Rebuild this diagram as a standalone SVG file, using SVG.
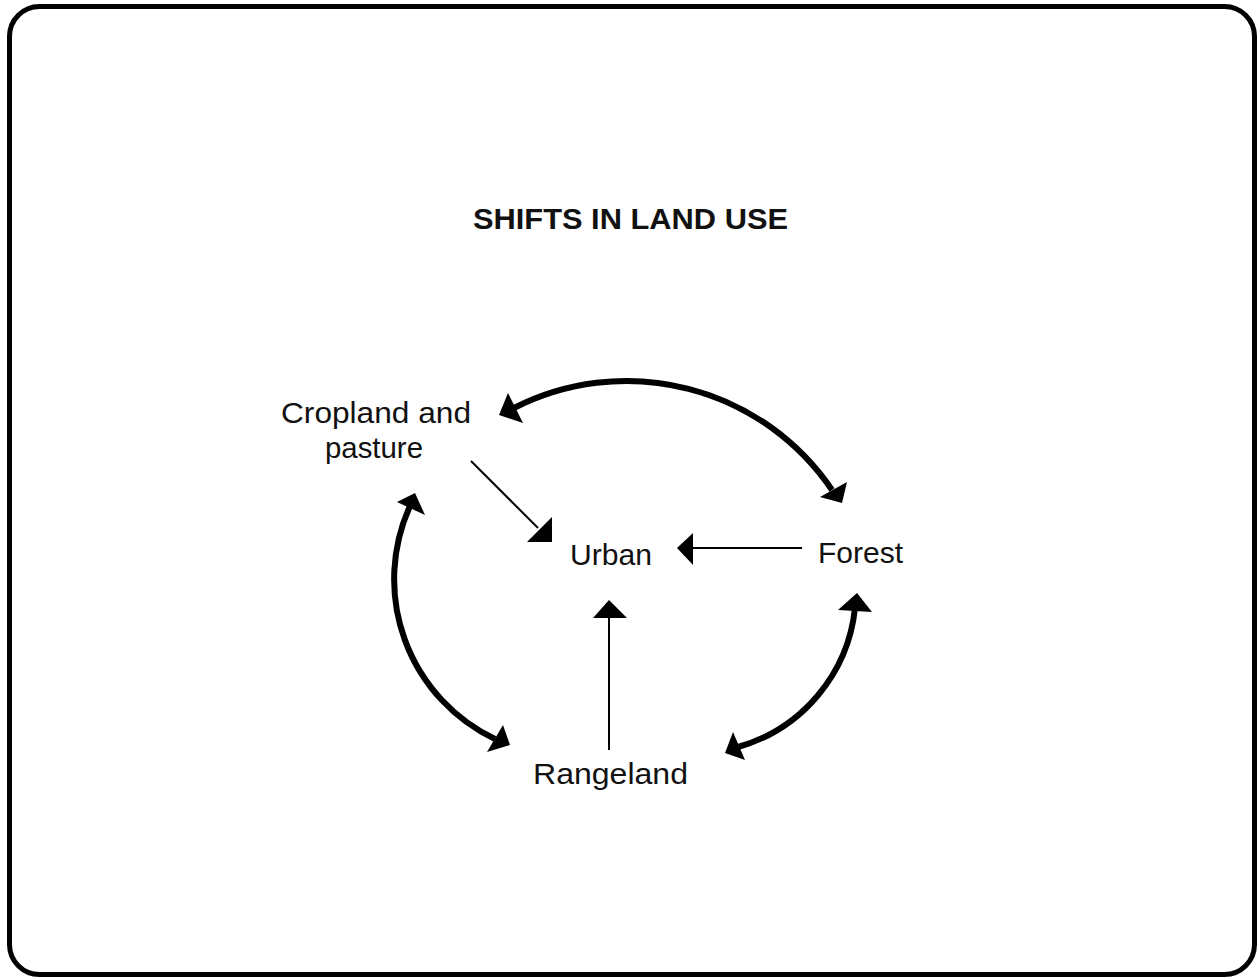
<svg xmlns="http://www.w3.org/2000/svg" width="1260" height="978" viewBox="0 0 1260 978">
<style>
.frame{fill:none;stroke:#000;stroke-width:5}
.lbl{font-family:"Liberation Sans",Arial,sans-serif;font-size:30px;fill:#111}
.title{font-family:"Liberation Sans",Arial,sans-serif;font-size:29px;font-weight:bold;fill:#111}
.thick{fill:none;stroke:#000;stroke-width:6}
.thin{fill:none;stroke:#000;stroke-width:2}
.head{fill:#000;stroke:none}
</style>
<rect width="1260" height="978" fill="#fff"/>
<rect class="frame" x="9.5" y="6.5" width="1245" height="968" rx="30"/>
<text class="title" x="473" y="229" textLength="315" lengthAdjust="spacingAndGlyphs">SHIFTS IN LAND USE</text>
<g id="cropland">
<text class="lbl" x="281" y="423" textLength="190" lengthAdjust="spacingAndGlyphs">Cropland and</text>
<text class="lbl" x="325" y="458" textLength="98" lengthAdjust="spacingAndGlyphs">pasture</text>
</g>
<g id="urban"><text class="lbl" x="570" y="565" textLength="82" lengthAdjust="spacingAndGlyphs">Urban</text></g>
<g id="forest"><text class="lbl" x="818" y="563" textLength="85" lengthAdjust="spacingAndGlyphs">Forest</text></g>
<g id="rangeland"><text class="lbl" x="533" y="784" textLength="155" lengthAdjust="spacingAndGlyphs">Rangeland</text></g>
<g id="connectors">
<path class="thick" d="M 514 408 A 248 248 0 0 1 832 490"/>
<polygon class="head" points="499,415 508,393 523,423"/>
<polygon class="head" points="820,497 847,482 842,503"/>
<path class="thick" d="M 410 506 A 177 177 0 0 0 495 739"/>
<polygon class="head" points="415,493 397,502 425,515"/>
<polygon class="head" points="487,752 503,725 510,745"/>
<path class="thick" d="M 855 608 A 162 162 0 0 1 738 747"/>
<polygon class="head" points="857,593 838,610 872,612"/>
<polygon class="head" points="733,732 745,760 725,753"/>
<line class="thin" x1="471" y1="461" x2="538" y2="528"/>
<polygon class="head" points="552,542 527,542 552,517"/>
<line class="thin" x1="609" y1="750" x2="609" y2="616"/>
<polygon class="head" points="609,600 593,618 627,618"/>
<line class="thin" x1="802" y1="548" x2="691" y2="548"/>
<polygon class="head" points="677,548 693,533 693,565"/>
</g>
</svg>
